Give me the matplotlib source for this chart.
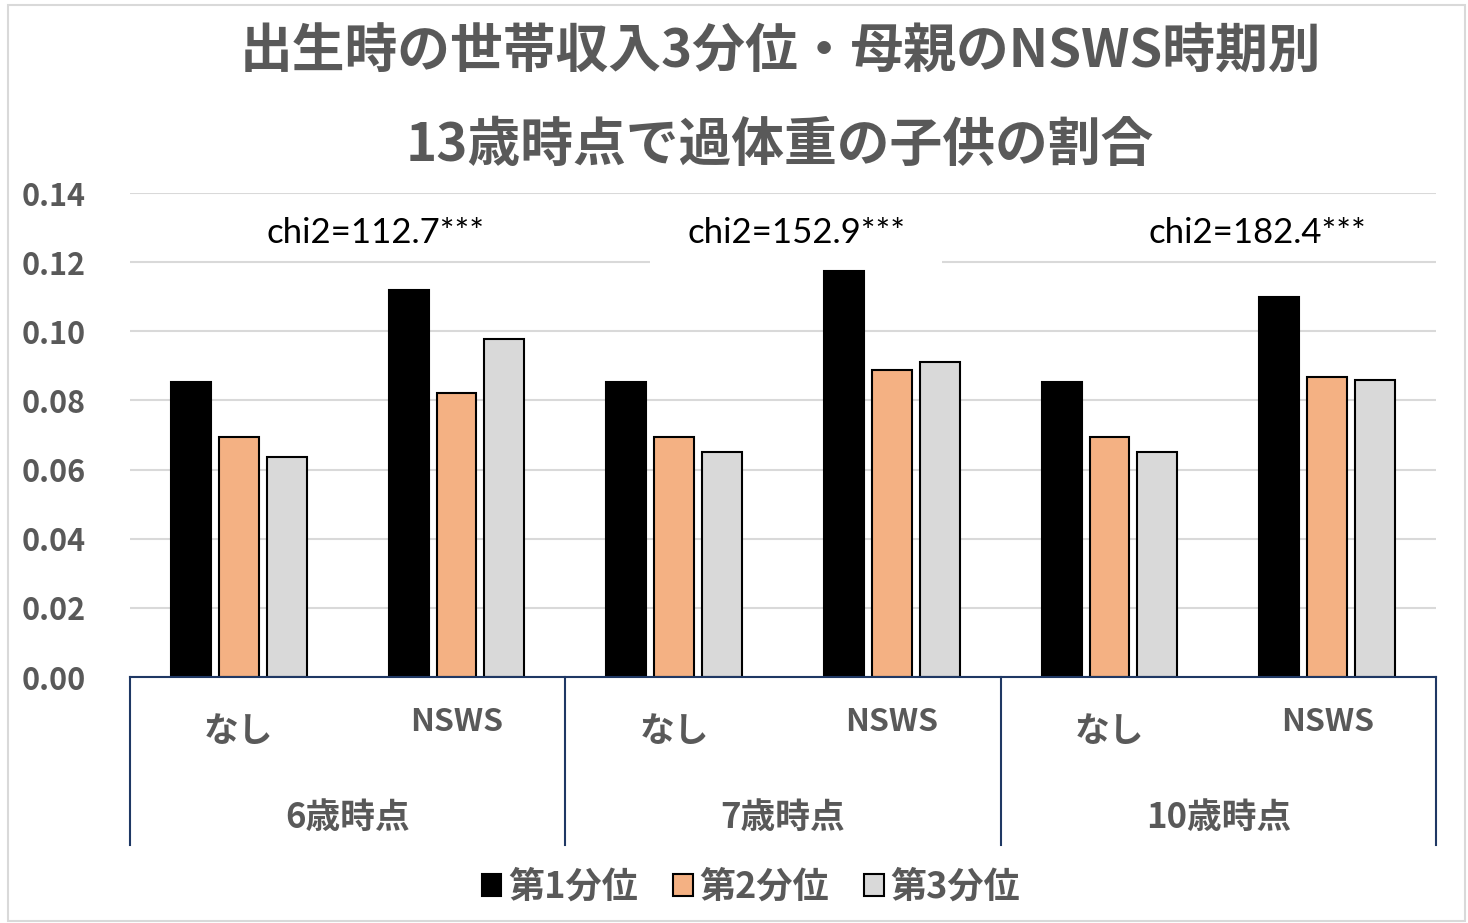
import matplotlib
matplotlib.use("Agg")
import matplotlib.pyplot as plt
import numpy as np
from matplotlib.patches import Patch, Rectangle
from matplotlib.lines import Line2D
import matplotlib.transforms as mtransforms

# ---- data ----
ages = ["6歳時点", "7歳時点", "10歳時点"]
nsws = ["なし", "NSWS"]
series_names = ["第1分位", "第2分位", "第3分位"]
q1 = [0.0853, 0.1120, 0.0853, 0.1174, 0.0853, 0.1099]
q2 = [0.0694, 0.0822, 0.0694, 0.0888, 0.0694, 0.0868]
q3 = [0.0636, 0.0978, 0.0651, 0.0911, 0.0651, 0.0859]
chi2_labels = ["chi2=112.7***", "chi2=152.9***", "chi2=182.4***"]
yticks = [0.00, 0.02, 0.04, 0.06, 0.08, 0.10, 0.12, 0.14]
title_lines = ["出生時の世帯収入3分位・母親のNSWS時期別", "13歳時点で過体重の子供の割合"]

colors = ["#000000", "#F4B183", "#D9D9D9"]
gray_txt = "#595959"
axis_blue = "#1F3864"
JP = ["Noto Sans CJK JP", "DejaVu Sans"]

W, H = 1468, 923
fig = plt.figure(figsize=(W / 100, H / 100), dpi=100)
ax = fig.add_axes([130 / W, 1 - 677 / H, (1436 - 130) / W, (677 - 193) / H])

x = np.arange(len(q1))
bw = 0.183
offs = [-0.22, 0.0, 0.22]
for vals, off, c in zip([q1, q2, q3], offs, colors):
    ax.bar(x + off, vals, width=bw, color=c, edgecolor="black", linewidth=1.5, zorder=3)

ax.set_xlim(-0.5, len(q1) - 0.5)
ax.set_ylim(0, 0.14)
ax.set_yticks(yticks)
ax.set_yticklabels([f"{v:.2f}" for v in yticks], fontsize=22, fontweight="bold",
                   color=gray_txt, family=JP)
ax.tick_params(axis="y", length=0, pad=78)
for lab in ax.get_yticklabels():
    lab.set_horizontalalignment("left")
ax.set_xticks([])
ax.grid(axis="y", color="#D9D9D9", linewidth=1.5, zorder=0)
ax.set_axisbelow(True)
for s in ["left", "right", "top"]:
    ax.spines[s].set_visible(False)
ax.spines["bottom"].set_color(axis_blue)
ax.spines["bottom"].set_linewidth(1.5)
ax.spines["bottom"].set_zorder(4)

# white gap behind the middle chi2 label
ax.add_patch(Rectangle((1.89, 0.1165), 1.34, 0.007, facecolor="white",
                       edgecolor="none", zorder=1))

# chi2 annotations
chi_x = [0.63, 2.56, 4.68]
for cx, lab in zip(chi_x, chi2_labels):
    ax.text(cx, 0.1284, lab, ha="center", va="center", fontsize=25,
            family=["Lato", "DejaVu Sans"], color="black", zorder=5)

# multi-level category axis
trans = mtransforms.blended_transform_factory(ax.transData, fig.transFigure)
y_axis = 1 - 677 / H
y_bottom = 1 - 845 / H
for b in [-0.5, 1.5, 3.5, 5.5]:
    fig.add_artist(Line2D([b, b], [y_axis, y_bottom], transform=trans,
                          color=axis_blue, linewidth=1.5))
for i in range(len(q1)):
    lab = nsws[i % 2]
    yy = 1 - (732 if lab == "なし" else 722) / H
    fig.text(x[i], yy, lab, transform=trans, ha="center", va="center",
             fontsize=25 if lab == "なし" else 23, fontweight="bold",
             color=gray_txt, family=JP)
for g, lab in enumerate(ages):
    fig.text(2 * g + 0.5, 1 - 817 / H, lab, transform=trans, ha="center",
             va="center", fontsize=25, fontweight="bold", color=gray_txt, family=JP)

# title
fig.text(780 / W, 1 - 52 / H, title_lines[0], ha="center", va="center",
         fontsize=38, fontweight="bold", color=gray_txt, family=JP)
fig.text(780 / W, 1 - 145 / H, title_lines[1], ha="center", va="center",
         fontsize=38, fontweight="bold", color=gray_txt, family=JP)

# legend
handles = [Patch(facecolor=c, edgecolor="black", linewidth=1.5) for c in colors]
leg = fig.legend(handles, series_names, loc="center", bbox_to_anchor=(751 / W, 1 - 887 / H),
                 ncol=3, frameon=False, handlelength=0.55, handleheight=0.55,
                 handletextpad=0.2, columnspacing=0.95,
                 prop={"family": JP, "weight": "bold", "size": 26})
for t in leg.get_texts():
    t.set_color(gray_txt)

# figure border
fig.add_artist(Rectangle((8 / W, 1 - 921 / H), (1465 - 8) / W, (921 - 5) / H,
                         transform=fig.transFigure, fill=False,
                         edgecolor="#D9D9D9", linewidth=1.5))

fig.savefig("out.png", dpi=100)
